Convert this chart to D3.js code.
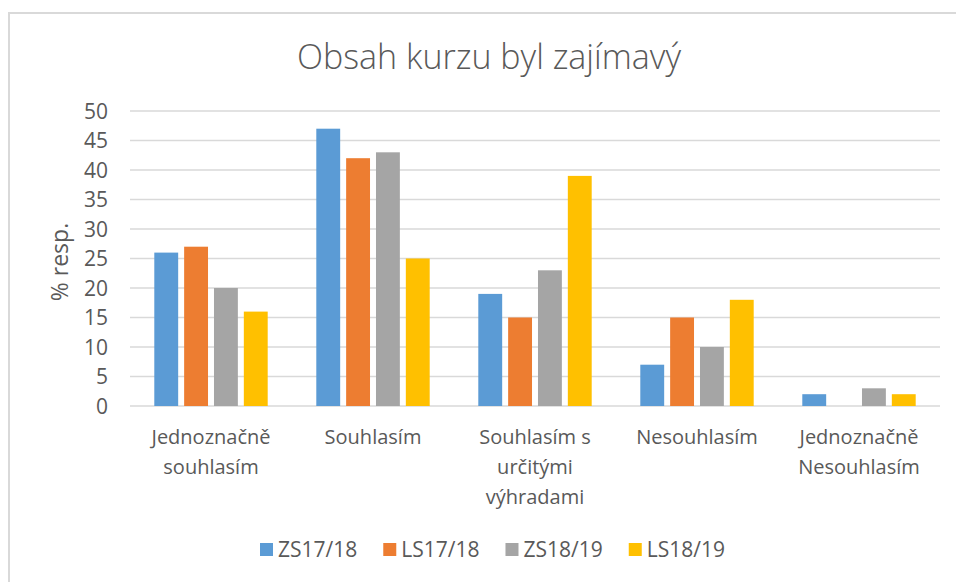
<!DOCTYPE html>
<html>
<head>
<meta charset="utf-8">
<script src="https://cdn.jsdelivr.net/npm/d3@7"></script>
<style>
  body { margin: 0; background: white; }
  svg text { font-family: "Open Sans", "Noto Sans", sans-serif; fill: #595959; }
</style>
</head>
<body>
<svg width="956" height="582"></svg>
<script>
var categories = [
    ["Jednoznačně", "souhlasím"],
    ["Souhlasím"],
    ["Souhlasím s", "určitými", "výhradami"],
    ["Nesouhlasím"],
    ["Jednoznačně", "Nesouhlasím"]
];
var seriesNames = ["ZS17/18", "LS17/18", "ZS18/19", "LS18/19"];
var zs1718 = [26, 47, 19, 7, 2];
var ls1718 = [27, 42, 15, 15, 0];
var zs1819 = [20, 43, 23, 10, 3];
var ls1819 = [16, 25, 39, 18, 2];
var yTicks = [0, 5, 10, 15, 20, 25, 30, 35, 40, 45, 50];
var colors = ["#5B9BD5", "#ED7D31", "#A5A5A5", "#FFC000"];

var values = [zs1718, ls1718, zs1819, ls1819];

var svg = d3.select("svg");

// chart frame
svg.append("rect")
    .attr("x", 9).attr("y", 13)
    .attr("width", 960).attr("height", 600)
    .attr("fill", "white")
    .attr("stroke", "#D9D9D9")
    .attr("stroke-width", 2);

var plotL = 130, plotR = 940, plotT = 111, plotB = 406;

var yS = d3.scaleLinear().domain([0, 50]).range([plotB, plotT]);

var x0 = d3.scaleBand()
    .domain(d3.range(categories.length))
    .range([plotL, plotR])
    .paddingInner(0.3)
    .paddingOuter(0.15);

var x1 = d3.scaleBand()
    .domain(d3.range(seriesNames.length))
    .range([0, x0.bandwidth()])
    .paddingInner(0.2);

// gridlines
svg.append("g")
    .selectAll("line")
    .data(yTicks)
    .enter()
    .append("line")
    .attr("x1", plotL).attr("x2", plotR)
    .attr("y1", d => yS(d)).attr("y2", d => yS(d))
    .attr("stroke", "#D9D9D9")
    .attr("stroke-width", 1.5);

// y tick labels
svg.append("g")
    .selectAll("text")
    .data(yTicks)
    .enter()
    .append("text")
    .attr("x", 108)
    .attr("y", d => yS(d))
    .attr("dy", "0.36em")
    .attr("text-anchor", "end")
    .style("font-size", "21px")
    .text(d => d);

// bars
var groups = svg.append("g")
    .selectAll("g")
    .data(values)
    .enter()
    .append("g")
    .attr("fill", (d, i) => colors[i]);

groups.each(function(series, si) {
    d3.select(this).selectAll("rect")
        .data(series)
        .enter()
        .append("rect")
        .attr("x", (d, ci) => x0(ci) + x1(si))
        .attr("y", d => yS(d))
        .attr("width", x1.bandwidth())
        .attr("height", d => plotB - yS(d));
});

// category labels
var catG = svg.append("g")
    .selectAll("text")
    .data(categories)
    .enter()
    .append("text")
    .attr("text-anchor", "middle")
    .style("font-size", "20px")
    .attr("transform", (d, i) => "translate(" + (x0(i) + x0.bandwidth() / 2) + ",444)");

catG.selectAll("tspan")
    .data(d => d)
    .enter()
    .append("tspan")
    .attr("x", 0)
    .attr("y", (d, i) => i * 30)
    .text(d => d);

// title
svg.append("text")
    .attr("x", 489)
    .attr("y", 69)
    .attr("text-anchor", "middle")
    .style("font-size", "34px")
    .style("font-weight", 300)
    .text("Obsah kurzu byl zajímavý");

// y axis label
svg.append("text")
    .attr("transform", "translate(68, 262) rotate(-90)")
    .attr("text-anchor", "middle")
    .style("font-size", "23px")
    .text("% resp.");

// legend
var legend = svg.append("g");
var lx = 260;
seriesNames.forEach(function(name, i) {
    legend.append("rect")
        .attr("x", lx).attr("y", 543)
        .attr("width", 13).attr("height", 13)
        .attr("fill", colors[i]);
    var t = legend.append("text")
        .attr("x", lx + 18)
        .attr("y", 557)
        .style("font-size", "21px")
        .text(name);
    lx += 18 + t.node().getComputedTextLength() + 26;
});
</script>
</body>
</html>
